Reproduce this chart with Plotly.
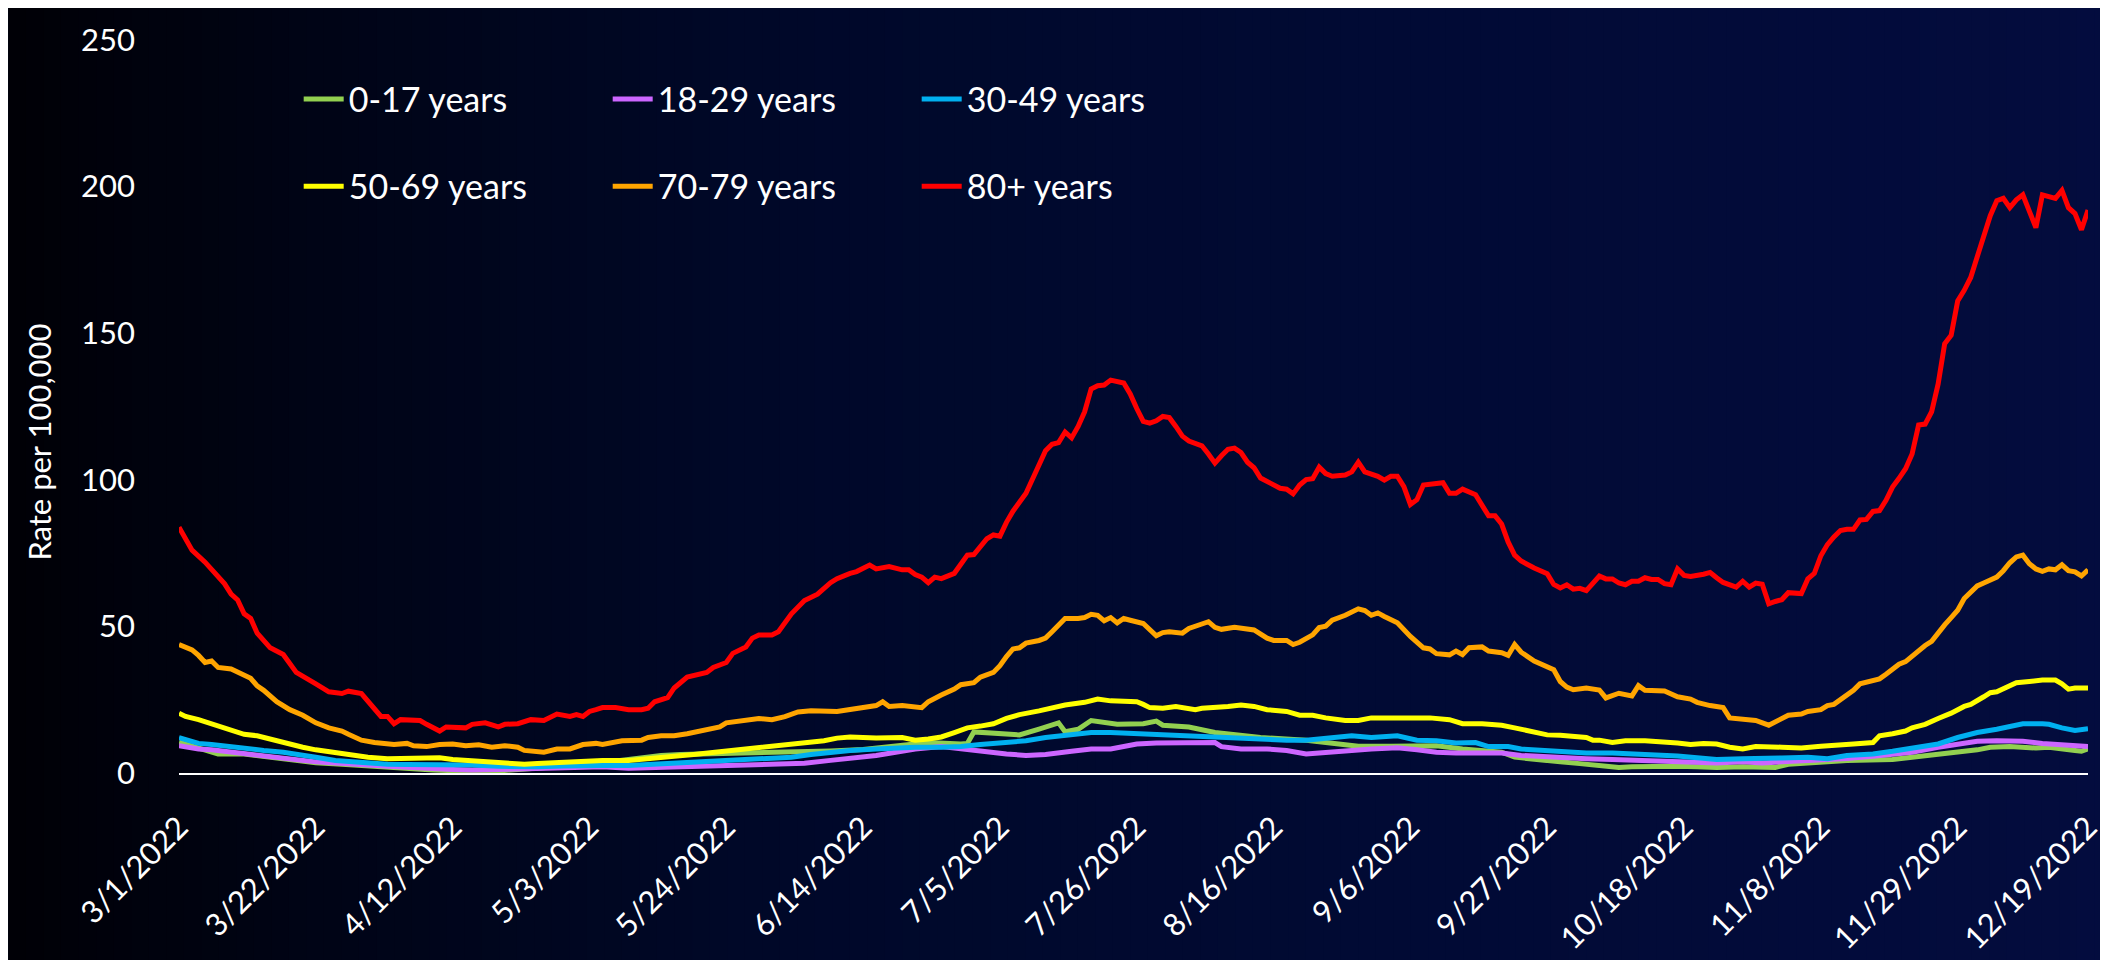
import datetime as dt
import plotly.graph_objects as go

START = dt.date(2022, 3, 1)

# ---- data: day offsets from 3/1/2022 and rates per 100,000 ----
g_days = [0, 3, 6, 10, 14, 18, 21, 25, 28, 32, 35, 39, 42, 45, 49, 53, 56, 60, 63, 67, 70, 74, 77, 81, 84, 88, 91, 96,
          100, 105, 110, 113, 115, 120, 121, 122, 124, 129, 132, 135, 136, 138, 140, 144, 148, 150, 151, 155, 159, 163,
          166, 173, 179, 181, 186, 191, 193, 197, 200, 203, 205, 208, 212, 215, 218, 221, 223, 226, 230, 233, 236, 240,
          242, 245, 247, 250, 253, 256, 260, 263, 266, 270, 273, 276, 278, 281, 285, 287, 291, 292, 293]
g_vals = [10.5, 8.5, 6.5, 6.5, 5.5, 4.5, 3.5, 3.0, 2.5, 2.0, 1.5, 1.0, 0.8, 0.5, 0.7, 1.5, 2.0, 2.5, 3.0, 4.0, 5.0, 6.0,
          6.3, 6.5, 6.5, 6.8, 6.8, 7.0, 7.5, 8.0, 9.0, 9.7, 10.4, 9.9, 10.1, 14.0, 13.8, 13.0, 15.0, 17.1, 14.1, 14.9,
          17.9, 16.6, 16.8, 17.7, 16.3, 15.7, 13.8, 13.0, 12.1, 11.2, 9.9, 9.1, 9.1, 9.1, 9.3, 8.2, 7.7, 7.1, 5.4, 4.6,
          3.8, 3.2, 2.7, 1.9, 2.1, 2.3, 2.3, 2.1, 1.9, 2.1, 1.9, 1.9, 3.0, 3.2, 3.8, 4.3, 4.3, 4.6, 5.4, 6.3, 7.1, 7.9,
          8.8, 9.0, 8.5, 8.8, 7.7, 7.4, 8.2]

p_days = [0, 3, 5, 8, 11, 13, 16, 19, 21, 24, 27, 29, 32, 35, 39, 42, 45, 49, 52, 55, 59, 62, 65, 69, 72, 75, 79, 82, 85,
          89, 92, 96, 100, 103, 107, 110, 113, 117, 120, 123, 127, 130, 133, 137, 140, 143, 147, 150, 153, 157, 159, 160,
          163, 167, 170, 173, 177, 180, 183, 187, 190, 193, 196, 200, 203, 206, 210, 213, 216, 220, 223, 226, 230, 233,
          236, 240, 243, 246, 250, 253, 256, 260, 263, 266, 270, 273, 276, 279, 283, 286, 289, 293]
p_vals = [9.3, 8.2, 7.9, 7.1, 6.3, 5.7, 5.2, 4.3, 3.8, 3.4, 3.2, 2.7, 2.3, 1.9, 1.6, 1.2, 1.0, 1.2, 1.2, 1.6, 1.9, 2.1,
          2.1, 1.6, 1.8, 1.6, 1.9, 2.3, 2.6, 2.9, 2.9, 3.3, 4.3, 4.9, 6.0, 7.1, 8.2, 9.0, 8.2, 7.4, 6.5, 6.0, 6.3, 7.4,
          8.2, 8.2, 9.9, 10.2, 10.2, 10.4, 10.4, 9.0, 8.2, 8.2, 7.7, 6.5, 7.4, 7.7, 8.2, 8.6, 7.9, 7.1, 6.8, 6.6, 6.8,
          6.0, 5.4, 5.2, 4.9, 4.6, 4.3, 4.1, 3.8, 3.4, 3.4, 3.8, 3.4, 3.8, 4.1, 4.3, 4.9, 5.7, 6.3, 7.1, 8.8, 9.9, 10.8,
          11.0, 10.8, 10.1, 9.7, 9.0]

b_days = [0, 3, 5, 8, 11, 13, 16, 19, 21, 24, 27, 29, 32, 35, 39, 42, 45, 49, 52, 55, 59, 62, 65, 69, 72, 75, 79, 82, 85,
          89, 92, 94, 97, 100, 103, 107, 110, 113, 117, 120, 123, 127, 130, 133, 137, 140, 143, 147, 150, 153, 157, 160,
          163, 167, 170, 173, 177, 180, 183, 187, 190, 193, 196, 199, 201, 204, 206, 210, 213, 216, 220, 223, 226, 230,
          233, 236, 240, 243, 246, 250, 253, 256, 260, 263, 266, 270, 273, 276, 279, 283, 286, 287, 289, 291, 293]
b_vals = [12.1, 10.1, 9.7, 8.8, 8.2, 7.7, 7.1, 6.3, 5.4, 4.3, 3.8, 3.2, 3.0, 2.9, 2.9, 3.0, 2.7, 2.3, 2.1, 2.1, 2.4, 2.6,
          2.6, 2.6, 2.9, 3.4, 3.8, 4.0, 4.3, 4.6, 4.9, 5.4, 6.3, 7.1, 7.7, 8.2, 8.6, 8.8, 8.8, 9.0, 9.7, 10.4, 11.0,
          12.1, 13.0, 13.8, 13.8, 13.4, 13.0, 13.0, 12.3, 12.1, 11.9, 11.2, 11.2, 11.2, 12.1, 12.7, 12.1, 12.7, 11.2,
          11.0, 10.2, 10.4, 9.0, 9.0, 8.2, 7.7, 7.1, 6.8, 6.8, 6.6, 6.3, 5.8, 5.2, 4.6, 4.9, 4.9, 5.1, 5.4, 4.9, 6.0,
          6.5, 7.4, 8.5, 9.9, 12.1, 13.8, 14.9, 16.8, 16.8, 16.6, 15.4, 14.5, 15.1]

y_days = [0, 1, 3, 5, 7, 8, 10, 12, 13, 15, 17, 19, 21, 24, 27, 29, 32, 35, 37, 40, 42, 45, 48, 51, 53, 55, 59, 61, 65,
          69, 71, 73, 76, 79, 81, 84, 87, 89, 92, 94, 96, 99, 101, 103, 105, 107, 111, 113, 115, 117, 119, 121, 123, 125,
          127, 129, 132, 134, 136, 139, 141, 143, 147, 148, 149, 151, 153, 156, 157, 161, 163, 165, 167, 170, 172, 174,
          176, 179, 181, 183, 187, 189, 192, 195, 197, 200, 203, 205, 207, 209, 210, 212, 214, 216, 217, 218, 220, 222,
          225, 227, 229, 230, 232, 234, 236, 238, 240, 242, 246, 249, 252, 254, 257, 260, 261, 263, 265, 266, 268, 270,
          272, 274, 275, 277, 278, 279, 281, 282, 284, 286, 288, 289, 290, 291, 293]
y_vals = [20.4, 19.3, 18.2, 16.8, 15.4, 14.6, 13.2, 12.7, 12.1, 11.0, 9.9, 8.8, 7.9, 6.8, 6.0, 5.4, 4.9, 4.9, 5.2, 5.2,
          4.6, 4.1, 3.8, 3.2, 3.0, 3.2, 3.8, 4.0, 4.3, 4.3, 4.6, 4.9, 5.7, 6.3, 6.8, 7.4, 8.2, 8.8, 9.3, 9.9, 10.2, 11.0,
          11.9, 12.3, 12.1, 11.9, 12.1, 11.2, 11.6, 12.3, 13.8, 15.4, 16.0, 16.8, 18.6, 19.9, 21.2, 22.3, 23.2, 24.1,
          25.2, 24.6, 24.3, 23.4, 22.3, 22.1, 22.7, 21.6, 22.1, 22.7, 23.2, 22.7, 21.6, 21.0, 19.7, 19.7, 18.8, 17.9,
          17.9, 18.8, 18.8, 18.6, 18.8, 18.2, 16.8, 16.8, 16.3, 15.4, 14.6, 13.4, 13.0, 12.9, 12.3, 12.1, 11.2, 11.2,
          10.4, 11.0, 11.0, 10.8, 10.2, 10.2, 9.7, 10.1, 9.9, 8.8, 8.2, 9.0, 8.8, 8.5, 9.1, 9.3, 9.9, 10.4, 12.7, 13.4,
          14.3, 15.4, 16.6, 18.6, 20.4, 22.7, 23.4, 26.0, 27.4, 27.7, 29.7, 30.8, 31.2, 31.7, 31.7, 30.4, 28.6, 29.0,
          29.0]

o_days = [0, 2, 3, 4, 5, 6, 8, 9, 11, 12, 13, 15, 17, 19, 21, 23, 25, 26, 28, 30, 33, 35, 36, 38, 40, 42, 44, 46, 48,
          50, 52, 53, 56, 58, 60, 62, 64, 65, 68, 71, 72, 74, 76, 78, 79, 81, 83, 84, 87, 89, 91, 93, 95, 97, 101, 103,
          105, 107, 108, 109, 111, 113, 114, 115, 116, 117, 119, 120, 122, 123, 125, 126, 127, 128, 129, 130, 132, 133,
          134, 136, 138, 139, 140, 141, 142, 143, 144, 145, 146, 148, 150, 151, 152, 154, 155, 157, 158, 159, 160, 162,
          164, 165, 167, 168, 170, 171, 172, 174, 175, 176, 177, 179, 181, 182, 183, 184, 185, 187, 189, 191, 192, 193,
          195, 196, 197, 198, 200, 201, 203, 204, 205, 206, 208, 210, 211, 212, 213, 214, 216, 218, 219, 221, 223, 224,
          225, 228, 230, 232, 233, 235, 237, 238, 240, 242, 244, 246, 247, 249, 250, 252, 253, 254, 256, 257, 258, 260,
          261, 262, 264, 265, 266, 268, 269, 270, 271, 272, 273, 274, 276, 277, 279, 280, 281, 282, 283, 284, 285, 286,
          287, 288, 289, 290, 291, 292, 293]
o_vals = [43.8, 42.0, 40.1, 37.7, 38.2, 36.0, 35.5, 34.3, 32.3, 29.7, 28.2, 24.3, 21.6, 19.7, 17.1, 15.4, 14.3, 13.2,
          11.2, 10.4, 9.7, 10.1, 9.3, 9.0, 9.7, 9.9, 9.3, 9.6, 8.8, 9.3, 8.8, 7.7, 7.1, 8.2, 8.2, 9.7, 10.1, 9.7, 11.0,
          11.2, 12.1, 12.7, 12.7, 13.4, 13.8, 14.9, 15.7, 17.1, 17.9, 18.6, 18.2, 19.2, 20.8, 21.2, 21.0, 21.6, 22.3,
          23.0, 24.3, 22.7, 23.0, 22.3, 22.3, 24.3, 25.7, 26.6, 28.6, 30.1, 30.8, 32.7, 34.3, 36.6, 39.7, 42.3, 42.7,
          44.3, 45.2, 46.0, 48.2, 52.7, 52.7, 53.0, 54.1, 53.8, 51.9, 53.0, 51.2, 52.7, 52.1, 51.0, 46.8, 47.9, 48.2,
          47.7, 49.3, 50.8, 51.6, 49.7, 49.0, 49.7, 49.0, 48.8, 46.0, 45.2, 45.2, 43.8, 44.6, 47.1, 49.6, 50.1, 52.1,
          53.8, 56.0, 55.4, 53.8, 54.6, 53.4, 51.2, 46.6, 42.7, 42.3, 40.7, 40.3, 41.6, 40.4, 42.7, 43.0, 41.6, 41.0,
          40.1, 43.8, 41.2, 38.2, 36.5, 35.2, 31.2, 29.3, 28.4, 29.0, 28.3, 25.6, 27.2, 26.3, 29.8, 28.2, 28.0, 26.0,
          25.2, 24.1, 23.0, 22.3, 18.8, 18.2, 17.9, 16.3, 18.6, 19.7, 20.1, 21.0, 21.6, 23.0, 23.4, 26.5, 28.2, 30.4,
          31.8, 32.1, 33.7, 37.1, 38.0, 39.9, 43.5, 44.9, 47.9, 50.5, 53.0, 55.5, 59.5, 63.8, 64.8, 66.8, 69.0, 71.7,
          73.7, 74.3, 71.4, 69.6, 68.8, 69.6, 69.3, 71.0, 69.0, 68.6, 67.2, 69.3]

r_days = [0, 2, 4, 6, 7, 8, 9, 10, 11, 12, 14, 16, 18, 21, 23, 25, 26, 28, 29, 30, 31, 32, 33, 34, 37, 38, 40, 41, 44,
          45, 47, 49, 50, 52, 54, 56, 58, 60, 61, 62, 63, 64, 65, 67, 69, 71, 72, 73, 75, 76, 78, 81, 82, 84, 85, 87,
          88, 89, 91, 92, 94, 96, 98, 100, 101, 103, 104, 106, 107, 109, 111, 112, 113, 114, 115, 116, 117, 119, 120,
          121, 122, 124, 125, 126, 127, 128, 130, 131, 132, 133, 134, 135, 136, 137, 138, 139, 140, 141, 142, 143, 145,
          146, 147, 148, 149, 150, 151, 152, 153, 154, 155, 157, 158, 159, 160, 161, 162, 163, 164, 165, 166, 168, 169,
          170, 171, 172, 173, 174, 175, 176, 177, 179, 180, 181, 182, 184, 185, 186, 187, 188, 189, 190, 191, 194, 195,
          196, 197, 199, 201, 202, 203, 204, 205, 206, 208, 210, 211, 212, 213, 214, 215, 216, 217, 218, 219, 220, 221,
          222, 223, 224, 225, 226, 227, 228, 229, 230, 231, 232, 234, 235, 236, 237, 239, 240, 241, 242, 243, 244, 245,
          246, 247, 249, 250, 251, 252, 253, 254, 255, 256, 257, 258, 259, 260, 261, 262, 263, 264, 265, 266, 267, 268,
          269, 270, 271, 272, 273, 274, 275, 276, 277, 278, 279, 280, 281, 282, 283, 285, 286, 288, 289, 290, 291, 292,
          293]
r_vals = [83.8, 76.0, 71.9, 67.0, 64.5, 61.0, 59.0, 54.3, 52.7, 47.7, 42.7, 40.4, 34.3, 30.4, 27.7, 27.1, 27.9, 27.1,
          24.3, 21.6, 19.3, 19.3, 16.8, 18.2, 17.9, 16.6, 14.3, 15.7, 15.4, 16.6, 17.1, 15.7, 16.6, 16.8, 18.2, 17.9,
          20.1, 19.3, 19.9, 19.3, 21.0, 21.6, 22.3, 22.3, 21.6, 21.6, 22.1, 24.3, 25.7, 29.0, 32.7, 34.3, 36.0, 37.7,
          40.8, 43.0, 46.0, 47.1, 47.1, 48.2, 54.3, 58.8, 61.0, 64.9, 66.3, 68.1, 68.7, 70.9, 69.6, 70.4, 69.3, 69.3,
          67.7, 66.8, 64.9, 66.8, 66.3, 68.1, 71.5, 74.3, 74.5, 79.9, 81.2, 80.8, 85.5, 89.3, 95.4, 100.4, 104.9, 109.9,
          112.1, 112.7, 116.3, 114.3, 118.2, 123.2, 131.0, 132.1, 132.3, 134.0, 133.0, 129.3, 124.3, 119.9, 119.3,
          120.1, 121.6, 121.2, 118.2, 114.9, 113.2, 111.6, 108.8, 105.7, 108.2, 110.4, 110.8, 109.3, 106.0, 104.1,
          100.6, 98.0, 97.1, 96.8, 95.2, 98.2, 100.1, 100.4, 104.3, 102.1, 101.2, 101.6, 102.7, 106.0, 102.7, 101.2,
          99.9, 101.2, 101.2, 97.7, 91.6, 93.2, 98.2, 99.0, 95.4, 95.4, 96.8, 94.9, 87.7, 87.7, 84.9, 78.8, 74.3, 72.3,
          69.9, 68.0, 64.3, 63.1, 64.2, 62.7, 63.0, 62.2, 65.0, 67.2, 66.2, 66.2, 64.8, 64.2, 65.4, 65.4, 66.6, 66.0,
          66.0, 64.6, 64.2, 69.6, 67.4, 67.0, 67.8, 68.4, 66.6, 65.0, 63.4, 65.4, 63.4, 64.8, 64.4, 57.7, 58.5, 59.1,
          61.5, 61.2, 66.2, 68.1, 74.1, 77.9, 80.5, 82.7, 83.1, 83.1, 86.3, 86.5, 89.2, 89.5, 93.0, 97.5, 100.5, 103.8,
          108.8, 118.7, 119.0, 123.2, 132.7, 146.4, 149.3, 161.0, 164.6, 169.0, 176.1, 183.3, 190.1, 195.2, 196.0,
          192.8, 195.5, 197.2, 186.0, 197.2, 196.0, 198.7, 192.8, 190.8, 185.3, 192.0]

tick_days = [0, 21, 42, 63, 84, 105, 126, 147, 168, 189, 210, 231, 252, 273, 293]
y_ticks = [0, 50, 100, 150, 200, 250]
y_title = "Rate per 100,000"

series = [
    ("0-17 years", g_days, g_vals, "#92D050", "legend"),
    ("18-29 years", p_days, p_vals, "#CC66FF", "legend"),
    ("30-49 years", b_days, b_vals, "#00B0F0", "legend"),
    ("50-69 years", y_days, y_vals, "#FFFF00", "legend2"),
    ("70-79 years", o_days, o_vals, "#FFA500", "legend2"),
    ("80+ years", r_days, r_vals, "#FF0000", "legend2"),
]


def to_dates(days):
    return [START + dt.timedelta(days=d) for d in days]


FONT = "Lato, 'Open Sans', sans-serif"
W, H = 2108, 960
ML, MR, MT, MB = 171, 24, 26, 187
pw, ph = W - ML - MR, H - MT - MB

fig = go.Figure()
for name, days, vals, color, leg in series:
    fig.add_trace(go.Scatter(x=to_dates(days), y=vals, name=name, mode="lines",
                             line=dict(color=color, width=5), legend=leg))

# background gradient (black -> navy), drawn as thin vertical strips
stops = [(0.0, (0, 0, 6)), (0.15, (0, 4, 22)), (0.35, (0, 8, 40)), (0.65, (1, 10, 52)), (1.0, (3, 12, 62))]


def col_at(t):
    for (t0, c0), (t1, c1) in zip(stops[:-1], stops[1:]):
        if t <= t1:
            f = (t - t0) / (t1 - t0)
            return tuple(round(a + (b - a) * f) for a, b in zip(c0, c1))
    return stops[-1][1]


N = 120
shapes = []
for i in range(N):
    px0 = W * i / N
    px1 = W * (i + 1) / N + 1
    c = col_at((i + 0.5) / N)
    shapes.append(dict(type="rect", xref="paper", yref="paper",
                       x0=(px0 - ML) / pw, x1=(px1 - ML) / pw, y0=-1, y1=2,
                       fillcolor="rgb(%d,%d,%d)" % c, line=dict(width=0), layer="below"))

tick_dates = to_dates(tick_days)
tick_text = ["%d/%d/%d" % (d.month, d.day, d.year) for d in tick_dates]

legend_common = dict(orientation="h", xanchor="left", yanchor="middle",
                     entrywidth=254, entrywidthmode="pixels", bgcolor="rgba(0,0,0,0)",
                     font=dict(size=34, color="white"), itemwidth=40, tracegroupgap=0)

fig.update_layout(
    width=W, height=H,
    margin=dict(l=ML, r=MR, t=MT, b=MB),
    paper_bgcolor="rgb(0,6,30)", plot_bgcolor="rgba(0,0,0,0)",
    shapes=shapes,
    font=dict(family=FONT, color="white", size=31),
    legend=dict(x=0.0627, y=0.919, **legend_common),
    legend2=dict(x=0.0627, y=0.800, **legend_common),
    xaxis=dict(type="date", range=[START - dt.timedelta(days=0.3), START + dt.timedelta(days=293.3)],
               tickvals=tick_dates, ticktext=tick_text, tickangle=-45,
               showgrid=False, zeroline=False, showline=True, linecolor="white", linewidth=2,
               ticks="", tickfont=dict(size=31, color="white"), ticklabelstandoff=22),
    yaxis=dict(range=[0, 250], tickvals=y_ticks, showgrid=False, zeroline=False,
               showline=False, ticks="", tickfont=dict(size=31, color="white"), ticklabelstandoff=43),
    annotations=[dict(text=y_title, textangle=-90, xref="paper", yref="paper",
                      x=(31 - ML) / pw, y=(H - MB - 436) / ph, xanchor="center", yanchor="middle",
                      showarrow=False, font=dict(size=31, color="white"))],
)

fig.write_html("out.html")
